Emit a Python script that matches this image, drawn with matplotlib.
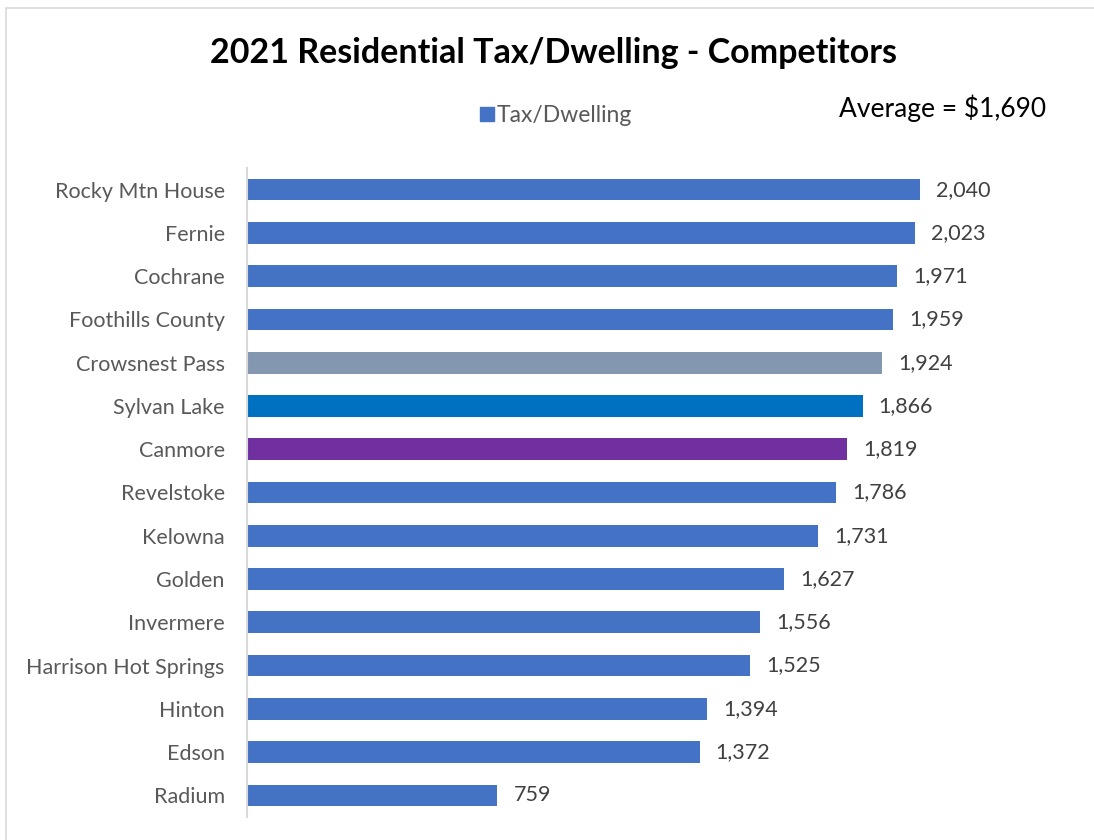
import matplotlib.pyplot as plt
from matplotlib.patches import Rectangle
from matplotlib.lines import Line2D

plt.rcParams['font.family'] = ['Lato', 'DejaVu Sans']

# -------------------- Data --------------------
towns = ["Rocky Mtn House", "Fernie", "Cochrane", "Foothills County",
         "Crowsnest Pass", "Sylvan Lake", "Canmore", "Revelstoke", "Kelowna",
         "Golden", "Invermere", "Harrison Hot Springs", "Hinton", "Edson",
         "Radium"]
tax = [2040, 2023, 1971, 1959, 1924, 1866, 1819, 1786, 1731,
       1627, 1556, 1525, 1394, 1372, 759]
average = 1690

base_color = "#4472C4"
highlight = {"Crowsnest Pass": "#8497B0", "Sylvan Lake": "#0070C0",
             "Canmore": "#7030A0"}
colors = [highlight.get(t, base_color) for t in towns]

# -------------------- Figure --------------------
fig = plt.figure(figsize=(10.94, 8.4), dpi=100)

# outer chart frame (cut off at right/bottom)
fig.patches.append(Rectangle((6 / 1094, -0.1), 1.2, 1 - 8 / 840 + 0.1,
                             transform=fig.transFigure, fill=False,
                             edgecolor="#D9D9D9", linewidth=1.2))

ax = fig.add_axes([247 / 1094, 1 - 817 / 840, 825 / 1094, 649 / 840])

y = list(range(len(towns)))
ax.barh(y, tax, height=0.5, color=colors)
ax.set_ylim(len(towns) - 0.5, -0.5)
ax.set_xlim(0, 2500)

for yi, v in zip(y, tax):
    ax.annotate(f"{v:,}", (v, yi), xytext=(11.5, 0), textcoords="offset points",
                ha="left", va="center", fontsize=15.5, color="#404040")

ax.set_yticks(y)
ax.set_yticklabels(towns, fontsize=15.5, color="#595959")
ax.tick_params(axis="y", length=0, pad=16)
ax.set_xticks([])
for side in ["top", "right", "bottom"]:
    ax.spines[side].set_visible(False)
ax.spines["left"].set_color("#D9D9D9")
ax.spines["left"].set_linewidth(1.5)

fig.text(554 / 1094, 1 - 53 / 840, "2021 Residential Tax/Dwelling - Competitors",
         ha="center", va="center", fontsize=24.5, fontweight="bold", color="black")

handle = Line2D([], [], marker="s", linestyle="none", markersize=10,
                markerfacecolor=base_color, markeredgecolor=base_color)
fig.legend([handle], ["Tax/Dwelling"], loc="center", frameon=False,
           bbox_to_anchor=(555 / 1094, 1 - 116 / 840), fontsize=16.5,
           labelcolor="#595959", handletextpad=0.05, handlelength=0.8)

fig.text(1046 / 1094, 1 - 108 / 840, f"Average = ${average:,}",
         ha="right", va="center", fontsize=19, color="black")

fig.savefig("out.png", dpi=100)
